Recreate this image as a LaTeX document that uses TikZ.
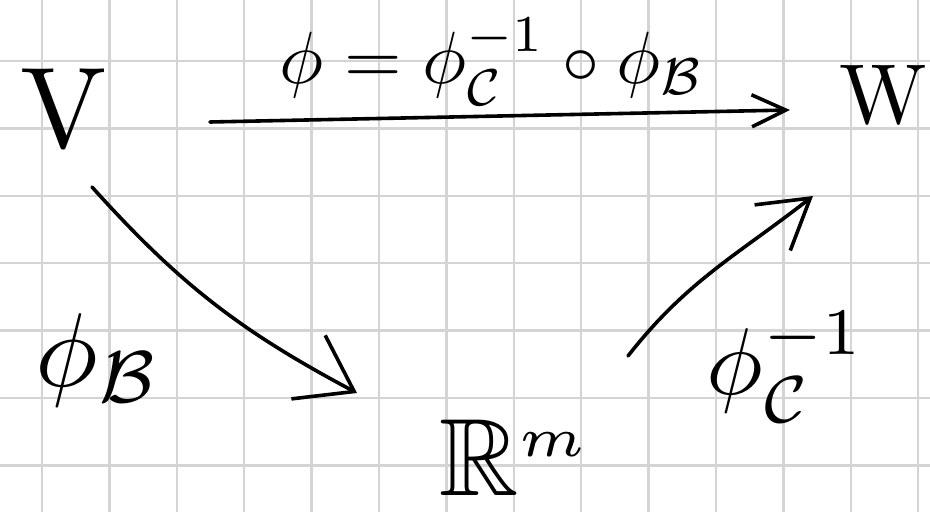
\documentclass[tikz,border=0pt]{standalone}
\usepackage{amssymb}
\usetikzlibrary{arrows.meta}
\begin{document}
\begin{tikzpicture}[x=1pt,y=1pt,
  gridline/.style={draw=black!17, line width=2.4pt},
  lbl/.style={inner sep=0pt, text=black},
  arr/.style={line width=3.6pt, line cap=round, line join=round},
]
\useasboundingbox (0,0) rectangle (930,512);
\fill[white] (0,0) rectangle (930,512);
\foreach \i in {0,...,13} \draw[gridline] ({42+67.4*\i},0) -- ({42+67.4*\i},512);
\foreach \j in {0,...,6} \draw[gridline] (0,{46.6+67.4*\j}) -- (930,{46.6+67.4*\j});
% objects
\node[lbl, scale=11.5] (V) at (64,404) {$\mathrm{V}$};
\node[lbl, scale=8.5] (W) at (884,418) {$\mathrm{W}$};
\node[lbl, scale=11, anchor=base west] (R) at (437,16) {$\mathbb{R}^{\scriptscriptstyle m}$};
% labels
\node[lbl, scale=7.4] (top) at (492,450) {$\phi=\phi_{\mathcal{C}}^{-1}\circ\phi_{\mathcal{B}}$};
\node[lbl, scale=10.5] (lB) at (98,152) {$\phi_{\mathcal{B}}$};
\node[lbl, scale=9.5] (lC) at (786,145) {$\phi_{\mathcal{C}}^{-1}$};
% arrows
\draw[arr, -{Straight Barb[length=34pt,width=32pt]}]
  ([shift={(146,-14)}]V.center) -- ([shift={(-94,-16)}]W.center);
\draw[arr, -{Straight Barb[length=52pt,width=72pt]}]
  ([shift={(28,-79)}]V.center) to[out=-48,in=152] ([shift={(-80,103)}]R.base west);
\draw[arr, -{Straight Barb[length=48pt,width=58pt]}]
  ([shift={(191,140)}]R.base west) to[out=52,in=-142] ([shift={(-71,-102)}]W.center);
\end{tikzpicture}
\end{document}
